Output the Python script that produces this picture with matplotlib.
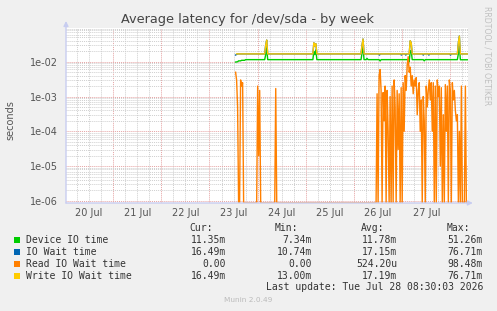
import matplotlib
matplotlib.use("Agg")
import matplotlib.pyplot as plt
from matplotlib.patches import Rectangle
from matplotlib.ticker import FixedLocator, NullFormatter
import matplotlib.transforms as mtransforms
import numpy as np

W, H = 497, 311

title = "Average latency for /dev/sda - by week"
ylabel = "seconds"
day_labels = ["20 Jul", "21 Jul", "22 Jul", "23 Jul", "24 Jul", "25 Jul", "26 Jul", "27 Jul"]
ytick_values = [1e-6, 1e-5, 1e-4, 1e-3, 1e-2]
ytick_labels = ["1e-06", "1e-05", "1e-04", "1e-03", "1e-02"]

# time in hours since 20 Jul 00:00
device_t = [85, 86, 86.5, 87.5, 88, 89.5, 90,
            99.5, 100, 100.5, 101,
            123.5, 124, 124.5, 125, 125.5,
            147.5, 148, 148.5, 149,
            150, 150.5, 151,
            156.5, 157, 157.5,
            171, 171.5, 172, 172.5, 173,
            178.5, 179, 179.5,
            195.5, 196, 196.5, 197, 200.5]
device_v = [0.0098, 0.0100, 0.0106, 0.0106, 0.0110, 0.0110, 0.0115,
            0.0115, 0.0160, 0.0250, 0.0115,
            0.0115, 0.0200, 0.0160, 0.0220, 0.0115,
            0.0115, 0.0180, 0.0260, 0.0115,
            0.0115, 0.0125, 0.0115,
            0.0115, 0.0105, 0.0115,
            0.0115, 0.0100, 0.0200, 0.0210, 0.0115,
            0.0115, 0.0106, 0.0115,
            0.0115, 0.0170, 0.0280, 0.0114, 0.0114]

iowait_t = [85, 86,
            99.5, 100, 100.5, 101,
            123.5, 124, 124.5, 125, 125.5,
            147.5, 148, 148.5, 149,
            156.3, 156.7, 157.1,
            167.2, 167.6, 168,
            169.4, 169.8, 170.2,
            171.5, 172, 172.5, 173,
            178.1, 178.5, 178.9,
            180.9, 181.3, 181.7,
            191.7, 192.1, 192.5,
            195.5, 196, 196.5, 197, 200.5]
iowait_v = [0.0156, 0.0168,
            0.0168, 0.0300, 0.0420, 0.0168,
            0.0168, 0.0350, 0.0280, 0.0330, 0.0168,
            0.0168, 0.0300, 0.0450, 0.0168,
            0.0168, 0.0155, 0.0168,
            0.0168, 0.0155, 0.0168,
            0.0168, 0.0155, 0.0168,
            0.0168, 0.0400, 0.0350, 0.0168,
            0.0168, 0.0155, 0.0168,
            0.0168, 0.0155, 0.0168,
            0.0168, 0.0155, 0.0168,
            0.0168, 0.0350, 0.0550, 0.0168, 0.0168]

write_t = [85.5,
           99.5, 100, 100.5, 101,
           123.5, 124, 124.5, 125, 125.5,
           147.5, 148, 148.5, 149,
           171.5, 172, 172.5, 173,
           195.5, 196, 196.5, 197, 200.5]
write_v = [0.0168,
           0.0168, 0.0300, 0.0420, 0.0168,
           0.0168, 0.0350, 0.0280, 0.0330, 0.0168,
           0.0168, 0.0300, 0.0450, 0.0168,
           0.0168, 0.0400, 0.0350, 0.0168,
           0.0168, 0.0350, 0.0550, 0.0168, 0.0168]

read_t = [85.0, 85.5, 86.0, 86.5, 87.0, 87.5, 88.0, 88.5, 89.0,
          95.5, 96.0, 96.5, 97.0, 97.5, 104.5, 105.0, 105.5,
          155.0, 155.5, 156.0, 156.5, 157.0, 157.5, 158.0, 158.5, 159.0, 159.5,
          160.0, 160.5, 161.0, 161.5, 162.0, 162.5, 163.0, 163.5, 164.0, 164.5,
          165.0, 165.5, 166.0, 166.5, 167.0, 167.5, 168.0, 168.5, 169.0, 169.5,
          170.0, 170.5, 171.0, 171.5, 172.0, 172.5, 173.0, 173.5, 174.0, 174.5,
          175.0, 175.5, 176.0, 176.5, 177.0, 177.5, 178.0, 178.5, 179.0, 179.5,
          180.0, 180.5, 181.0, 181.5, 182.0, 182.5, 183.0, 183.5, 184.0, 184.5,
          185.0, 185.5, 186.0, 186.5, 187.0, 187.5, 188.0, 188.5, 189.0, 189.5,
          190.0, 190.5, 191.0, 191.5, 192.0, 192.5, 193.0, 193.5, 194.0, 194.5,
          195.0, 195.5, 196.0, 196.5, 197.0, 197.5, 198.0, 198.5, 199.0, 199.5, 200.0]
read_v = [5e-3, 3e-3, 5e-4, 0, 0, 3e-3, 2e-3, 2.5e-3, 0,
          0, 2e-3, 2e-5, 1.5e-3, 0, 0, 1.7e-3, 0,
          0, 1.2e-3, 0, 4e-3, 6e-3, 1.5e-3, 0, 1.3e-3, 2e-4, 2e-3,
          0, 1.5e-3, 1e-4, 0, 1e-3, 0, 2e-3, 0, 3e-3, 5e-4,
          0, 1.5e-3, 3e-5, 1.2e-3, 0, 1.8e-3, 0, 2.5e-3, 1e-4, 4e-3,
          1.5e-3, 8e-3, 1.4e-2, 5e-3, 7e-3, 2e-3, 4e-3, 1.2e-3, 3e-3, 2e-3,
          3.5e-3, 3e-4, 1.5e-3, 2.5e-3, 1e-4, 8e-4, 0, 1e-3, 2e-4, 0,
          2e-3, 5e-4, 1.5e-3, 3e-3, 8e-4, 2.5e-3, 1e-4, 2.5e-3, 0, 2e-3,
          0, 3e-3, 1e-3, 2e-3, 1e-5, 1.8e-3, 0, 3e-4, 0, 2.2e-3,
          1e-4, 2e-3, 0, 3e-3, 1.5e-3, 0, 2.5e-3, 8e-4, 1.5e-3, 4e-4,
          2e-4, 3e-4, 0, 1e-4, 0, 2e-3, 0, 0, 0, 2e-3, 0]

legend_names = ["Device IO time", "IO Wait time", "Read IO Wait time", "Write IO Wait time"]
legend_colors = ["#00CC00", "#0066B3", "#FF8000", "#FFCC00"]
cur_vals = ["11.35m", "16.49m", "0.00", "16.49m"]
min_vals = ["7.34m", "10.74m", "0.00", "13.00m"]
avg_vals = ["11.78m", "17.15m", "524.20u", "17.19m"]
max_vals = ["51.26m", "76.71m", "98.48m", "76.71m"]
last_update = "Last update: Tue Jul 28 08:30:03 2026"
version = "Munin 2.0.49"
watermark = "RRDTOOL / TOBI OETIKER"

YMIN, YMAX = 10 ** -6.06, 10 ** -1.03

fig = plt.figure(figsize=(W / 100, H / 100), dpi=100, facecolor="#F0F0F0")
ax = fig.add_axes([66 / W, 1 - 203 / H, 402 / W, 175 / H])
ax.set_facecolor("white")
ax.set_yscale("log")
ax.set_ylim(YMIN, YMAX)
ax.set_xlim(0.5, 200.8)
for s in ax.spines.values():
    s.set_visible(False)

# grid
ax.yaxis.set_major_locator(FixedLocator(ytick_values))
ax.yaxis.set_minor_locator(FixedLocator([m * 10.0 ** e for e in range(-7, -1) for m in range(2, 10)]))
ax.yaxis.set_minor_formatter(NullFormatter())
ax.set_yticklabels(ytick_labels)
ax.xaxis.set_major_locator(FixedLocator(np.arange(24, 200, 24)))
ax.xaxis.set_minor_locator(FixedLocator(np.arange(6, 201, 6)))
ax.xaxis.set_major_formatter(NullFormatter())
ax.xaxis.set_minor_formatter(NullFormatter())
ax.grid(which="minor", color="#cfcfcf", linestyle=(0, (1, 1)), linewidth=0.7)
ax.grid(which="major", color="#e6a3a3", linestyle=(0, (1, 1)), linewidth=0.7)
ax.set_axisbelow(True)
ax.tick_params(which="both", length=0)
ax.tick_params(axis="y", labelsize=7, labelcolor="#555555", pad=6)

# series (drawn in munin order)
ax.plot(device_t, device_v, color=legend_colors[0], lw=1.0)
ax.plot(iowait_t, iowait_v, color=legend_colors[1], lw=1.0)
read_plot = [v if v > 0 else YMIN for v in read_v]
ax.plot(read_t, read_plot, color=legend_colors[2], lw=1.0)
ax.plot(write_t, write_v, color=legend_colors[3], lw=1.0)

# x labels at noon
trans = mtransforms.blended_transform_factory(ax.transData, fig.transFigure)
for i, lab in enumerate(day_labels):
    ax.text(12 + 24 * i, 1 - 213 / H, lab, transform=trans, ha="center", va="center",
            fontsize=7, color="#555555")

# axis arrows
axcol = "#c8cdf0"
ax.annotate("", xy=(0, 1.04), xytext=(0, 0), xycoords="axes fraction",
            arrowprops=dict(arrowstyle="-|>", color=axcol, lw=1.0, mutation_scale=7,
                            shrinkA=0, shrinkB=0))
ax.annotate("", xy=(1.012, 0), xytext=(0, 0), xycoords="axes fraction",
            arrowprops=dict(arrowstyle="-|>", color=axcol, lw=1.0, mutation_scale=7,
                            shrinkA=0, shrinkB=0))

# title and labels
fig.text(247.5 / W, 1 - 20 / H, title, ha="center", va="center", fontsize=9.3, color="#444444")
fig.text(10.7 / W, 1 - 120 / H, ylabel, rotation=90, ha="center", va="center",
         fontsize=7, color="#555555")
fig.text(487 / W, 1 - 55.5 / H, watermark, rotation=-90, ha="center", va="center",
         fontsize=5.6, color="#c0c0c0")

# legend
mono = "DejaVu Sans Mono"
tc = "#333333"
hy = 1 - 228.3 / H
for lab, xr in zip(["Cur:", "Min:", "Avg:", "Max:"], [213, 298, 384, 470]):
    fig.text(xr / W, hy, lab, ha="right", va="center", family=mono, fontsize=7, color=tc)
rows_y = [239.7, 251.7, 263.7, 275.7]
for i in range(4):
    yy = 1 - rows_y[i] / H
    fig.add_artist(Rectangle((14 / W, yy - 3 / H), 6 / W, 6 / H, transform=fig.transFigure,
                             facecolor=legend_colors[i], edgecolor="none"))
    fig.text(26.3 / W, yy, legend_names[i], ha="left", va="center", family=mono,
             fontsize=7, color=tc)
    for vals, xr in zip([cur_vals, min_vals, avg_vals, max_vals], [226, 312, 397, 483]):
        fig.text(xr / W, yy, vals[i], ha="right", va="center", family=mono,
                 fontsize=7, color=tc)
fig.text(483 / W, 1 - 287.3 / H, last_update, ha="right", va="center", family=mono,
         fontsize=7, color=tc)
fig.text(248 / W, 1 - 300.3 / H, version, ha="center", va="center", fontsize=5.3,
         color="#bbbbbb")

fig.savefig("out.png", dpi=100, facecolor=fig.get_facecolor())
